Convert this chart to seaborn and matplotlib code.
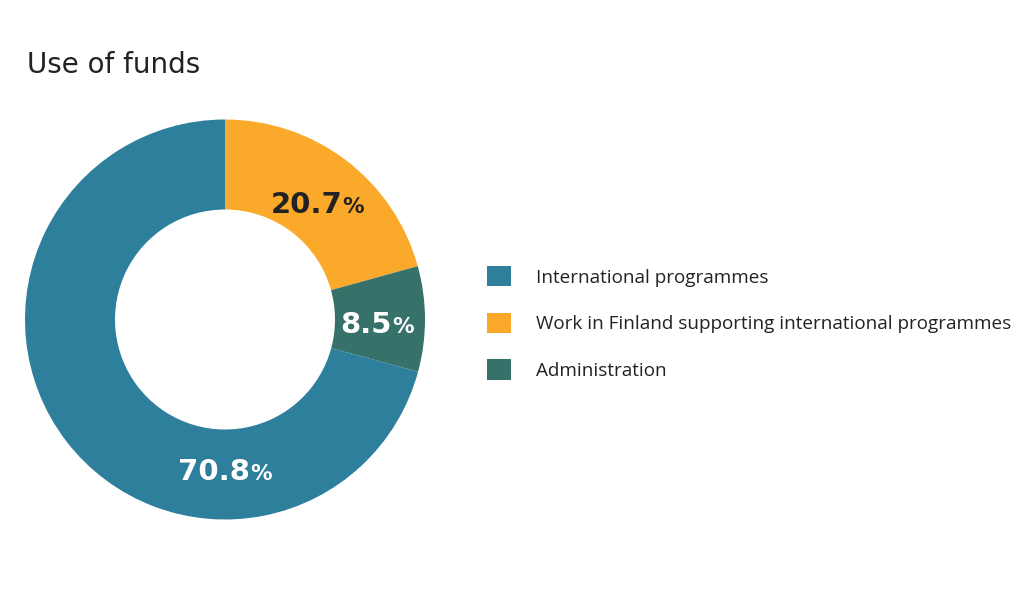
import numpy as np
import seaborn as sns
import matplotlib
matplotlib.use('Agg')
import matplotlib.pyplot as plt
from matplotlib.patches import Patch
from matplotlib.offsetbox import TextArea, HPacker, AnnotationBbox

# data
categories = ['International programmes',
              'Work in Finland supporting international programmes',
              'Administration']
shares = [70.8, 20.7, 8.5]
colors = ['#2e7f9c', '#fba92b', '#37726a']
label_colors = ['white', '#222222', 'white']

# drawing order clockwise from top: orange, green, blue
draw_order = [1, 2, 0]

sns.set_theme(style='white')
plt.rcParams['font.family'] = ['Open Sans', 'DejaVu Sans']

fig = plt.figure(figsize=(10.35, 6.11), dpi=100)
ax = fig.add_axes([25 / 1035, 90 / 611, 400 / 1035, 403 / 611])

vals = [shares[i] for i in draw_order]
cols = [colors[i] for i in draw_order]
wedges, _ = ax.pie(vals, colors=cols, startangle=90, counterclock=False,
                   radius=1, wedgeprops=dict(width=0.45, edgecolor='none'))
ax.set_xlim(-1, 1)
ax.set_ylim(-1, 1)
ax.set_aspect('equal')
ax.axis('off')

# value labels in the ring; the big slice label sits at the bottom
label_r = 0.76
for w, idx in zip(wedges, draw_order):
    mid = (w.theta1 + w.theta2) / 2
    shift = -0.03
    if idx == 0:
        mid = 270
        shift = 0.0
    x = label_r * np.cos(np.radians(mid))
    y = label_r * np.sin(np.radians(mid)) + shift
    num = TextArea(f'{shares[idx]:.1f}',
                   textprops=dict(color=label_colors[idx], fontsize=21,
                                  fontweight='bold', family='DejaVu Sans'))
    pct = TextArea('%',
                   textprops=dict(color=label_colors[idx], fontsize=15.5,
                                  fontweight='bold', family='DejaVu Sans'))
    box = HPacker(children=[num, pct], align='baseline', pad=0, sep=0)
    ab = AnnotationBbox(box, (x, y), frameon=False, box_alignment=(0.5, 0.5))
    ax.add_artist(ab)

fig.text(27 / 1035, 1 - 65 / 611, 'Use of funds', fontsize=20,
         color='#222222', va='center', ha='left', family='DejaVu Sans')

handles = [Patch(facecolor=c, edgecolor='none') for c in colors]
fig.legend(handles, categories, loc='center left',
           bbox_to_anchor=(487 / 1035, 1 - 323 / 611), frameon=False,
           fontsize=13.6, handlelength=1.27, handleheight=1.27,
           handletextpad=1.3, labelspacing=1.38, borderpad=0,
           borderaxespad=0, labelcolor='#222222')

fig.savefig('out.png', dpi=100, facecolor='white')
